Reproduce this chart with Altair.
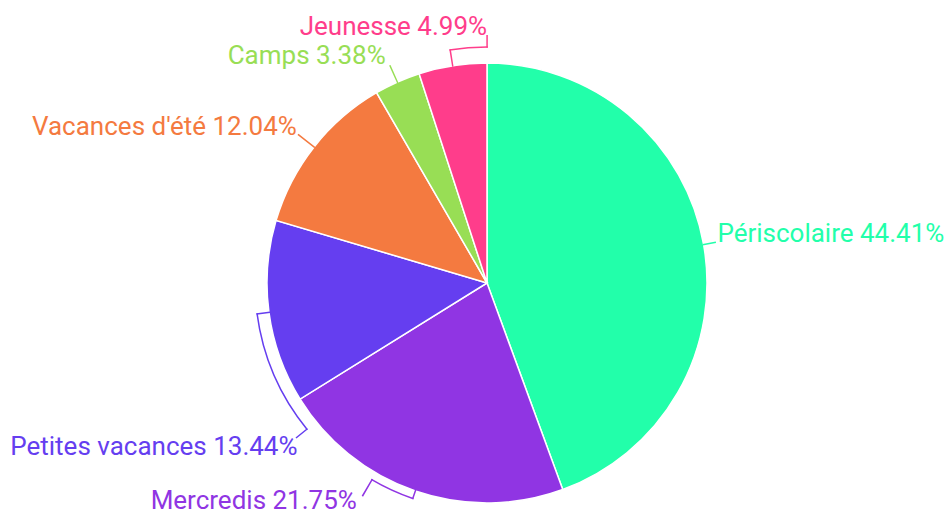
import altair as alt
import pandas as pd
import numpy as np

# ---- data ----
categories = ["Périscolaire", "Mercredis", "Petites vacances", "Vacances d'été", "Camps", "Jeunesse"]
shares = [44.41, 21.75, 13.44, 12.04, 3.38, 4.99]
colors = ["#22FFAA", "#9035E3", "#653EF0", "#F47A40", "#98DE55", "#FF3D8B"]

# ---- label layout (degrees relative to slice middle, radii in px) ----
leader_nudge = [0.0, 11.3, -31.4, 0.0, 0.0, 9.0]
ring_r = [232, 228, 232, 240, 238, 236]
out_r = [232, 247, 246, 240, 238, 248]
text_nudge = [0.0, 10.9, -34.6, -0.3, -0.8, 9.0]
text_r = [234, 261, 256, 241, 241, 248]
right_side = [True, False, False, False, False, False]

R = 220
CX, CY = 479, 275

total = sum(shares)
ends = np.cumsum(shares) / total * 360.0
starts = ends - np.array(shares) / total * 360.0
mids = (starts + ends) / 2
leadang = mids + np.array(leader_nudge)
textang = mids + np.array(text_nudge)

pie_df = pd.DataFrame({"cat": categories, "t1": starts, "t2": ends})


def hw(r):
    return 0.75 / r * 180 / np.pi


seg = []
for i, c in enumerate(categories):
    rr = ring_r[i]
    rm = (R + rr) / 2
    seg.append((c, mids[i] - hw(rm), mids[i] + hw(rm), rr + 0.5, R - 1))
    lo, hi = min(mids[i], leadang[i]), max(mids[i], leadang[i])
    if hi - lo > 0.3:
        seg.append((c, lo - hw(rr), hi + hw(rr), rr + 0.75, rr - 0.75))
    if out_r[i] > rr:
        ro = (rr + out_r[i]) / 2
        seg.append((c, leadang[i] - hw(ro), leadang[i] + hw(ro), out_r[i], rr - 0.75))
seg_df = pd.DataFrame(seg, columns=["cat", "t1", "t2", "r1", "r2"])

lab_df = pd.DataFrame({
    "cat": categories,
    "label": [f"{c} {s:.2f}%" for c, s in zip(categories, shares)],
    "ang": textang,
    "r": text_r,
    "right": right_side,
})

theta_scale = alt.Scale(domain=[0, 360], range=[0, 2 * np.pi])
color_scale = alt.Scale(domain=categories, range=colors)

pie = alt.Chart(pie_df).mark_arc(radius=R, stroke="white", strokeWidth=1.5).encode(
    theta=alt.Theta("t1:Q", scale=theta_scale, stack=None),
    theta2="t2:Q",
    color=alt.Color("cat:N", scale=color_scale, legend=None),
    x=alt.value(CX), y=alt.value(CY),
)

leaders = alt.Chart(seg_df).mark_arc(strokeWidth=0).encode(
    theta=alt.Theta("t1:Q", scale=theta_scale, stack=None),
    theta2="t2:Q",
    radius=alt.Radius("r1:Q", scale=None),
    radius2="r2:Q",
    color=alt.Color("cat:N", scale=color_scale, legend=None),
    x=alt.value(CX), y=alt.value(CY),
)


def text_layer(is_right):
    return alt.Chart(lab_df).transform_filter(
        alt.datum.right == is_right
    ).mark_text(
        font="Roboto", fontSize=26, align="left" if is_right else "right", baseline="alphabetic"
    ).encode(
        theta=alt.Theta("ang:Q", scale=theta_scale, stack=None),
        radius=alt.Radius("r:Q", scale=None),
        text="label:N",
        color=alt.Color("cat:N", scale=color_scale, legend=None),
        x=alt.value(CX), y=alt.value(CY),
    )


chart = alt.layer(pie, leaders, text_layer(True), text_layer(False)).properties(
    width=936, height=504, autosize=alt.AutoSizeParams(type="none"), padding=0
).configure_view(stroke=None)

chart.save("out.html", embed_options={"renderer": "svg", "actions": False})
